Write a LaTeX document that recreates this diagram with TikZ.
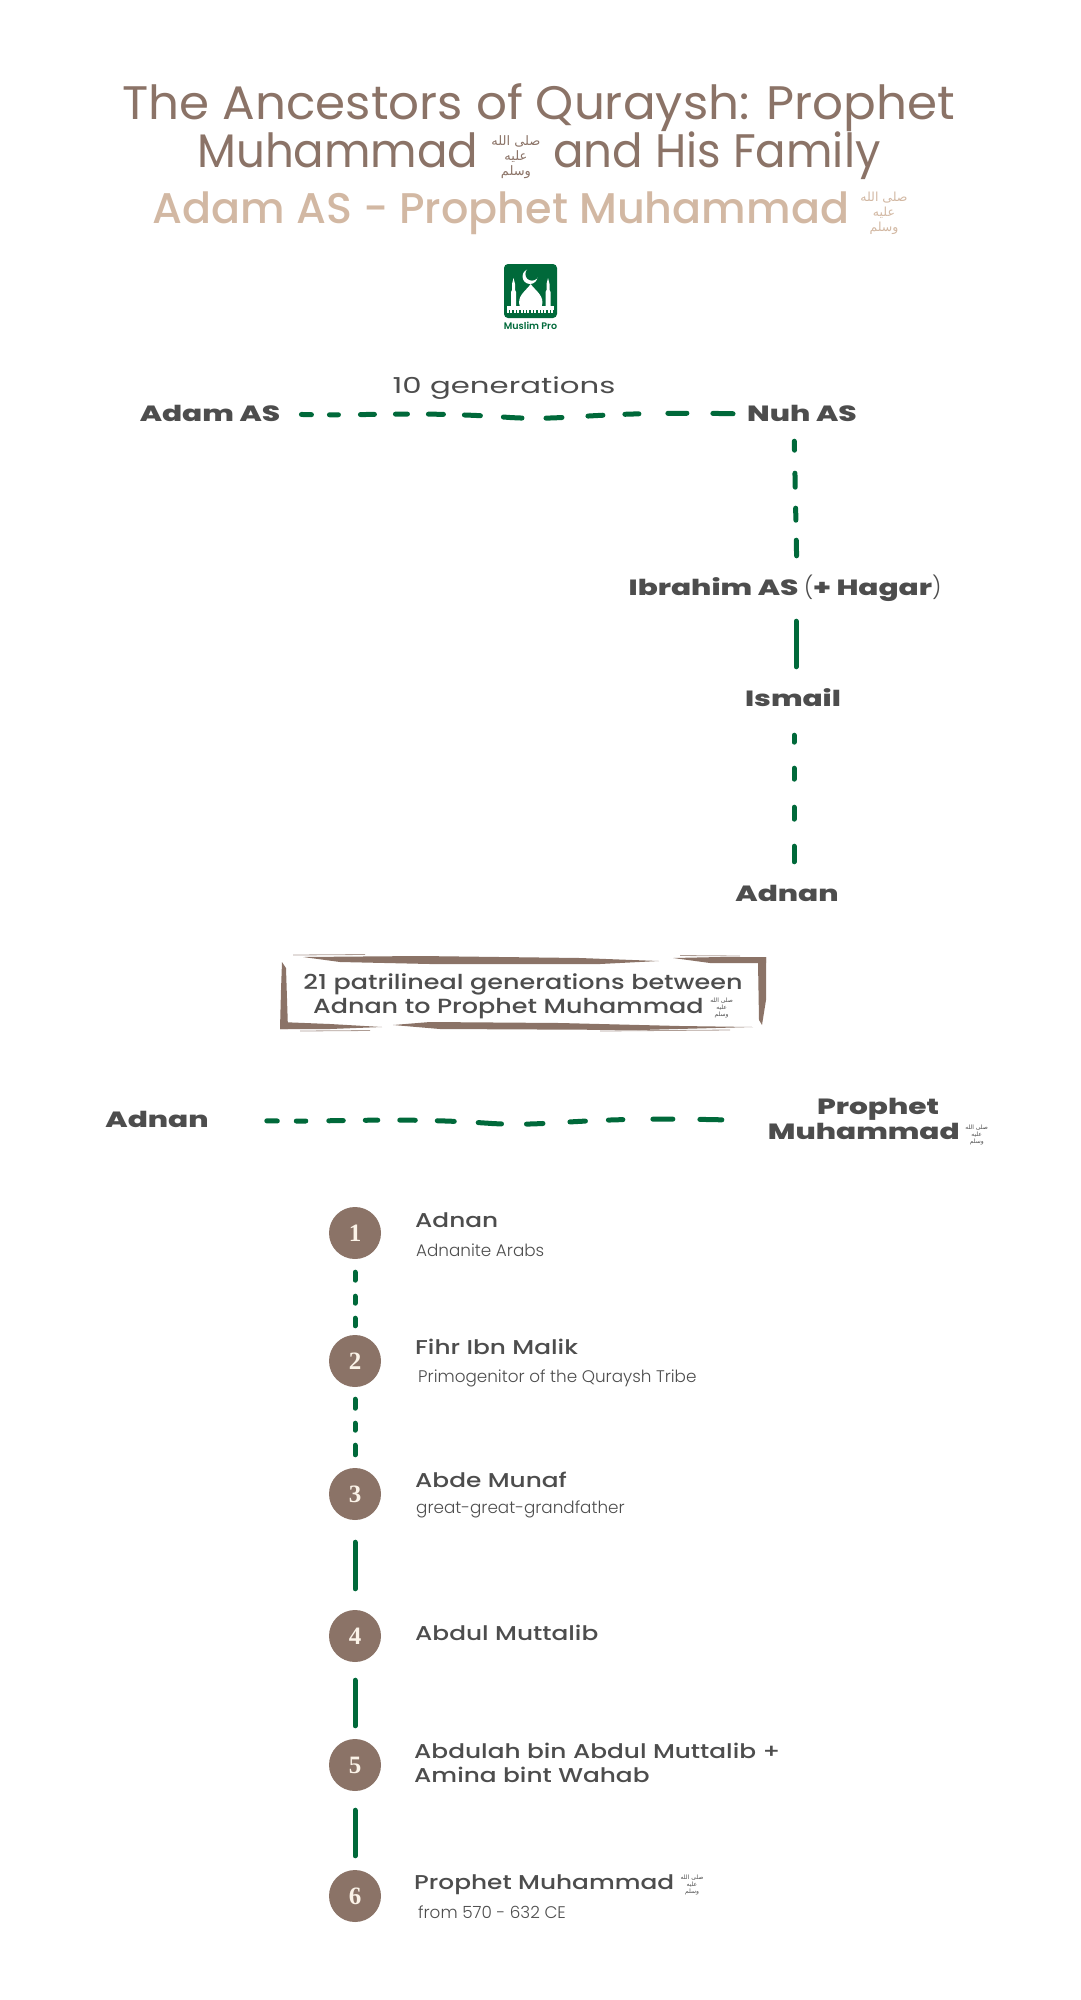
\documentclass[tikz,border=0pt]{standalone}
\usepackage{fontspec}
\TeXXeTstate=1
\newfontfamily\arabicfont[Script=Arabic]{DejaVu Sans}
\newfontfamily\headfont[FakeStretch=1.03]{Poppins}
\newfontfamily\headnarrow[FakeStretch=.96]{Poppins}
\newfontfamily\subheadfont{Poppins Medium}
\newfontfamily\widefont[FakeStretch=1.24]{Poppins Medium}
\newfontfamily\broadfont[FakeStretch=1.4]{Poppins}
\newfontfamily\blackfont[FakeStretch=1.345]{Poppins ExtraBold}
\newfontfamily\thinfont{Poppins Light}
\newfontfamily\logofont{Poppins SemiBold}
\newfontfamily\digitfont{Liberation Serif Bold}
\definecolor{titlebrown}{HTML}{8B7367}
\definecolor{sandbrown}{HTML}{D2B8A3}
\definecolor{inkgrey}{HTML}{4D4D4D}
\definecolor{prayergreen}{HTML}{00693A}
\definecolor{cream}{HTML}{FBF3E8}
\newcommand{\pbuh}[1]{\smash{\raisebox{-.2\height}{\arabicfont\fontsize{#1}{#1}\selectfont\vbox{\baselineskip=\dimexpr #1pt*117/100\relax\lineskiplimit=-20pt\halign{\hfil##\hfil\cr\beginR صلى الله\endR\cr\beginR عليه\endR\cr\beginR وسلم\endR\cr}}}}}
\tikzset{
  headline/.style={font=\headfont\fontsize{47}{48}\selectfont,text=titlebrown,align=center,inner sep=0pt},
  subline/.style={font=\subheadfont\fontsize{42.9}{48}\selectfont,text=sandbrown,inner sep=0pt},
  person/.style={font=\blackfont\fontsize{22}{25}\selectfont,text=inkgrey,align=center,inner sep=0pt,text height=18.5pt,text depth=3.5pt},
  item/.style={font=\widefont\fontsize{20}{24}\selectfont,text=inkgrey,anchor=west,align=left,inner sep=0pt},
  note/.style={font=\thinfont\fontsize{16.8}{18}\selectfont,text=inkgrey,anchor=west,inner sep=0pt},
  bead/.style={circle,fill=titlebrown,minimum size=52pt,inner sep=0pt,text=cream,font=\digitfont\fontsize{25}{26}\selectfont},
  stroke/.style={draw=prayergreen,line width=5pt,line cap=round},
  brushA/.style={stroke,dash pattern=on 10pt off 18pt on 9pt off 22pt on 14pt off 21pt on 12pt off 21pt on 15pt off 21pt on 16pt off 23pt on 17pt off 24pt on 16pt off 26pt on 15pt off 22pt on 14pt off 29pt on 19pt off 26pt on 21pt off 200pt},
  brushB/.style={stroke,dash pattern=on 10.5pt off 19pt on 9.5pt off 23pt on 14.5pt off 22pt on 12.5pt off 22pt on 15.5pt off 22pt on 17pt off 24pt on 18pt off 25pt on 16.5pt off 27pt on 15.5pt off 23pt on 14.5pt off 30pt on 20pt off 27pt on 22pt off 200pt},
  brush/.style={fill=titlebrown},
  streak/.style={draw=titlebrown!70,line width=.8pt}
}
\begin{document}
\begin{tikzpicture}[x=1pt,y=-1pt]
  \useasboundingbox (0,0) rectangle (1080,2000);
  \node[headline] (title) at (539,132) {The Ancestors of Quraysh: Prophet\\{\headnarrow Muhammad} \pbuh{13} {\headnarrow and His Family}};
  \node[subline] (sub) at (530,213) {Adam AS - Prophet Muhammad \pbuh{12.5}};
  % logo
  \fill[prayergreen,rounded corners=4pt] (504,264) rectangle (557,318);
  \fill[white] (520,307) .. controls (516,296) and (526,291) .. (530.7,284) .. controls (535.5,291) and (545.5,296) .. (541.5,307) -- cycle;
  \fill[white] (511,307) -- (511,292) -- (512,290) -- (512,284) -- (513.5,278) -- (515,284) -- (515,290) -- (516,292) -- (516,307) -- cycle;
  \fill[white] (545.5,307) -- (545.5,292) -- (546.5,290) -- (546.5,284) -- (548,278) -- (549.5,284) -- (549.5,290) -- (550.5,292) -- (550.5,307) -- cycle;
  \fill[white] (507,306) rectangle (554,310);
  \draw[white,line width=3.5pt,dash pattern=on 2pt off 1.4pt] (507,311) -- (554,311);
  \fill[white] (530,276.5) circle (7.5pt); \fill[prayergreen] (532,274) circle (6.6pt);
  \node[font=\logofont\fontsize{9.5}{10}\selectfont,text=prayergreen,inner sep=0pt] (pro) at (530.5,326) {Muslim Pro};
  % first line
  \node[font=\broadfont\fontsize{22}{25}\selectfont,text=inkgrey,inner sep=0pt] (gens) at (504,388) {10 generations};
  \node[person] (adam) at (210,414) {Adam AS}; \node[person] (nuh) at (802,414) {Nuh AS};
  \node[person] (ibrahim) at (785,588) {Ibrahim AS {\thinfont(}+ Hagar{\thinfont)}};
  \node[person] (ismail) at (793,699) {Ismail}; \node[person] (adnan) at (787,894) {Adnan};
  \coordinate (bendA) at (510,417.5);
  \draw[brushA,shorten <=21pt] (adam.east) .. controls (370,416) and (420,411) .. (bendA);
  \draw[brushA,dash phase=207pt,shorten >=14pt] (bendA) .. controls (570,421) and (590,411) .. (nuh.west);
  \draw[stroke,dash pattern=on 9pt off 23pt on 14pt off 21pt on 12pt off 20pt on 16pt off 99pt,shorten <=16pt,shorten >=21pt] ([xshift=-8pt]nuh.south) -- ([xshift=12pt]ibrahim.north);
  \draw[stroke,shorten <=22pt,shorten >=21pt] ([xshift=11pt]ibrahim.south) -- ([xshift=3pt]ismail.north);
  \draw[stroke,dash pattern=on 7pt off 26pt on 11pt off 28pt on 12pt off 27pt on 16pt off 99pt,shorten <=25pt,shorten >=21pt] ([xshift=1pt]ismail.south) -- ([xshift=7pt]adnan.north);
  % brushed box
  \fill[brush] (303,957) -- (420,956) -- (580,958) -- (659,961) -- (600,964) -- (430,964) -- (340,962) -- cycle;
  \fill[brush] (673,958) -- (720,957) -- (766,957) -- (766,963) -- (710,963) -- cycle;
  \fill[brush] (758,962) -- (766,957) -- (766,1000) -- (762,1025) -- (759,1020) -- cycle;
  \fill[brush] (282,962) -- (286,968) -- (288,1029) -- (280,1029) -- (281,990) -- cycle;
  \fill[brush] (280,1022) -- (330,1024) -- (382,1027) -- (330,1029) -- (280,1029) -- cycle;
  \fill[brush] (393,1025) -- (430,1022) -- (560,1023) -- (680,1026) -- (753,1027) -- (640,1030) -- (440,1029) -- cycle;
  \draw[streak] (293,955) -- (365,954.5); \draw[streak] (680,955.5) -- (740,956);
  \draw[streak] (300,1031) -- (370,1030.5); \draw[streak] (600,1031) -- (730,1030);
  \node[font=\widefont\fontsize{20.5}{24}\selectfont,text=inkgrey,align=center,inner sep=0pt] (between) at (523,996) {21 patrilineal generations between\\Adnan to Prophet Muhammad \pbuh{6}};
  % second line
  \node[person] (adnanb) at (157,1120) {Adnan};
  \node[person] (prophet) at (878,1132) {Prophet\\Muhammad \pbuh{6}};
  \coordinate (bendB) at (492,1123.5);
  \draw[brushB,shorten <=58pt] (adnanb.east) .. controls (345,1122) and (400,1117) .. (bendB);
  \draw[brushB,dash phase=220pt,shorten >=39pt] (bendB) .. controls (555,1127) and (575,1116) .. ([yshift=11pt]prophet.west);
  % timeline
  \node[bead] (one) at (355,1233) {1}; \node[bead] (two) at (355,1361) {2}; \node[bead] (three) at (355,1494) {3};
  \node[bead] (four) at (355,1636) {4}; \node[bead] (five) at (355,1765) {5}; \node[bead] (six) at (355,1896) {6};
  \draw[stroke,dash pattern=on 8pt off 16pt on 7pt off 15pt on 8pt off 99pt,shorten <=13pt,shorten >=9pt] (one) -- (two);
  \draw[stroke,dash pattern=on 9pt off 15pt on 7pt off 15pt on 10pt off 99pt,shorten <=12pt,shorten >=13pt] (two) -- (three);
  \draw[stroke,shorten <=22pt,shorten >=21pt] (three) -- (four);
  \draw[stroke,shorten <=18pt,shorten >=13pt] (four) -- (five);
  \draw[stroke,shorten <=19pt,shorten >=14pt] (five) -- (six);
  \node[item] (adnanc) at (415,1220) {Adnan}; \node[note] (adnanite) at (416,1250) {Adnanite Arabs};
  \node[item] (fihr) at (415,1347) {Fihr Ibn Malik}; \node[note] (primo) at (418,1378) {Primogenitor of the Quraysh Tribe};
  \node[item] (abde) at (415,1480) {Abde Munaf}; \node[note] (great) at (416,1509) {great-great-grandfather};
  \node[item] (abdul) at (415,1633) {Abdul Muttalib};
  \node[item] (abdulah) at (414,1763) {Abdulah bin Abdul Muttalib +\\Amina bint Wahab};
  \node[item] (prophetc) at (414,1885) {Prophet Muhammad \pbuh{6}}; \node[note] (dates) at (418,1912) {from 570 - 632 CE};
\end{tikzpicture}
\end{document}
